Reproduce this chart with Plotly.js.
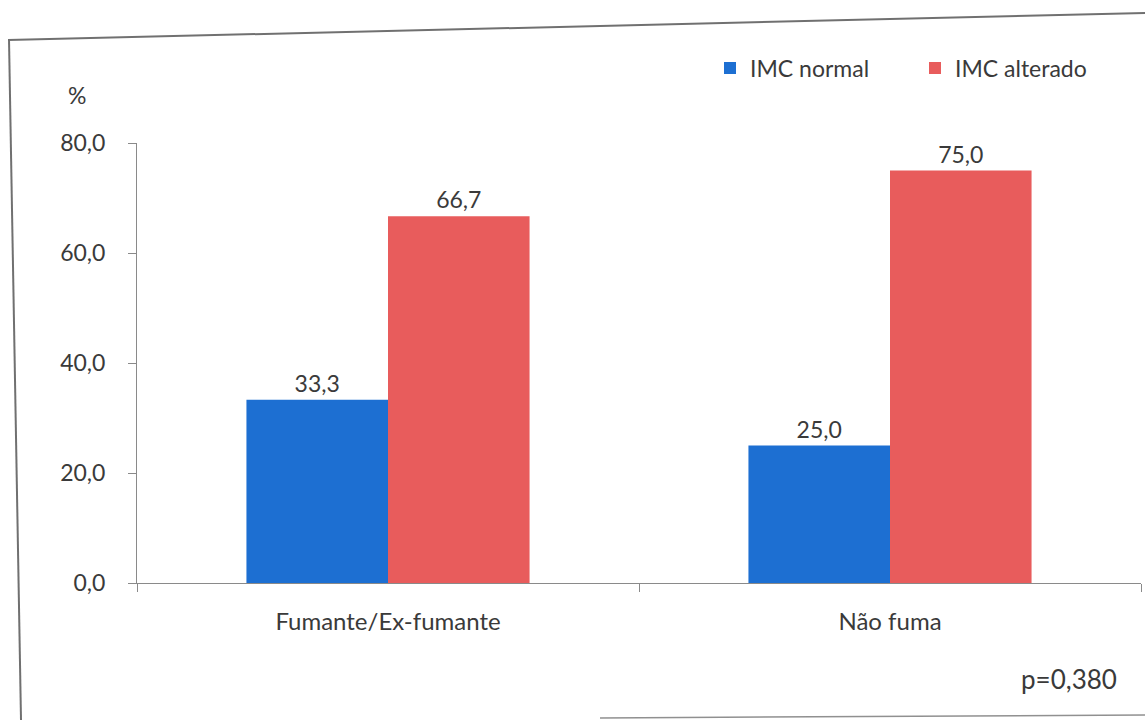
<!DOCTYPE html>
<html>
<head>
<meta charset="utf-8">
<script src="https://cdn.plot.ly/plotly-3.0.1.min.js"></script>
<style>
  html, body { margin: 0; padding: 0; background: #ffffff; }
  #chart { width: 1145px; height: 720px; }
</style>
</head>
<body>
<div id="chart"></div>
<script>
// Smoking status vs. BMI (IMC) distribution, percentages
const categories = ['Fumante/Ex-fumante', 'Não fuma'];
const imcNormal = [33.3, 25.0];
const imcAlterado = [66.7, 75.0];
const yTicks = [0, 20, 40, 60, 80];

const FONT = 'Lato, "Open Sans", "DejaVu Sans", sans-serif';
const TXT = '#3a3a3a';

// plot area geometry in pixels, used to place the frame in paper units
const W = 1145, H = 720;
const M = { l: 137, r: 4, t: 143, b: 137 };
const pw = W - M.l - M.r, ph = H - M.t - M.b;
const px = v => (v - M.l) / pw;
const py = v => (H - M.b - v) / ph;

const common = {
  type: 'bar',
  x: categories,
  texttemplate: '%{y:.1f}',
  textposition: 'outside',
  cliponaxis: false,
  textfont: { family: FONT, size: 23, color: TXT },
  hoverinfo: 'skip'
};

const traces = [
  Object.assign({}, common, { name: 'IMC normal', y: imcNormal, marker: { color: '#1d6fd2' } }),
  Object.assign({}, common, { name: 'IMC alterado', y: imcAlterado, marker: { color: '#e85c5c' } })
];

const layout = {
  width: W, height: H,
  margin: M,
  paper_bgcolor: '#ffffff',
  plot_bgcolor: '#ffffff',
  separators: ',.',
  font: { family: FONT, size: 23, color: TXT },
  barmode: 'group',
  bargap: 0.436,
  bargroupgap: 0,
  showlegend: true,
  legend: {
    orientation: 'h',
    x: px(710), xanchor: 'left',
    y: py(68), yanchor: 'middle',
    font: { family: FONT, size: 23, color: TXT },
    itemwidth: 30,
    entrywidth: 160,
    tracegroupgap: 0,
    bgcolor: 'rgba(0,0,0,0)'
  },
  xaxis: {
    type: 'category',
    showline: true, linecolor: '#8a8a8a', linewidth: 1,
    ticks: 'outside', ticklen: 8, tickcolor: '#8a8a8a',
    tickson: 'boundaries',
    showgrid: false, zeroline: false,
    tickfont: { family: FONT, size: 24, color: TXT },
    ticklabelstandoff: 17
  },
  yaxis: {
    range: [0, 80],
    tickvals: yTicks,
    tickformat: '.1f',
    showline: true, linecolor: '#8a8a8a', linewidth: 1,
    ticks: 'outside', ticklen: 8, tickcolor: '#8a8a8a',
    showgrid: false, zeroline: false,
    tickfont: { family: FONT, size: 23, color: TXT },
    ticklabelstandoff: 18
  },
  annotations: [
    { xref: 'paper', yref: 'paper', x: px(66), y: py(95), xanchor: 'left', yanchor: 'middle',
      text: '%', showarrow: false, font: { family: FONT, size: 23, color: TXT } },
    { xref: 'paper', yref: 'paper', x: px(1119), y: py(679), xanchor: 'right', yanchor: 'middle',
      text: 'p=0,380', showarrow: false, font: { family: FONT, size: 26, color: TXT } }
  ],
  shapes: [
    // chart frame
    { type: 'line', xref: 'paper', yref: 'paper', x0: px(8), y0: py(40), x1: px(1145), y1: py(13),
      line: { color: '#707070', width: 2 }, layer: 'below' },
    { type: 'line', xref: 'paper', yref: 'paper', x0: px(9), y0: py(39), x1: px(21), y1: py(720),
      line: { color: '#707070', width: 2 }, layer: 'below' },
    { type: 'line', xref: 'paper', yref: 'paper', x0: px(600), y0: py(718), x1: px(1145), y1: py(715),
      line: { color: '#909090', width: 1.5 }, layer: 'below' }
  ]
};

Plotly.newPlot('chart', traces, layout, { displayModeBar: false, staticPlot: true });
</script>
</body>
</html>
